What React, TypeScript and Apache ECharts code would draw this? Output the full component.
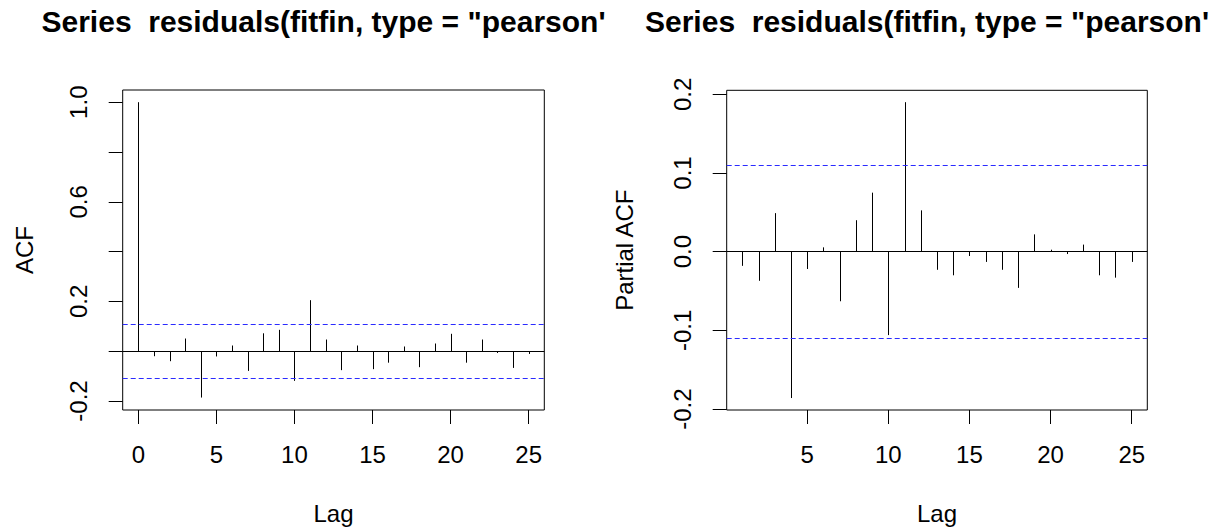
import React, { useEffect, useRef } from "react";
import * as echarts from "echarts";

const acfLags = [0, 1, 2, 3, 4, 5, 6, 7, 8, 9, 10, 11, 12, 13, 14, 15, 16, 17, 18, 19, 20, 21, 22, 23, 24, 25];
const acfValues = [1.0, -0.02, -0.04, 0.051, -0.186, -0.021, 0.023, -0.079, 0.072, 0.086, -0.119, 0.205, 0.047, -0.076, 0.023, -0.072, -0.046, 0.019, -0.064, 0.031, 0.07, -0.046, 0.047, -0.007, -0.067, -0.011];
const pacfLags = [1, 2, 3, 4, 5, 6, 7, 8, 9, 10, 11, 12, 13, 14, 15, 16, 17, 18, 19, 20, 21, 22, 23, 24, 25];
const pacfValues = [-0.018, -0.037, 0.049, -0.186, -0.022, 0.0055, -0.063, 0.04, 0.075, -0.106, 0.19, 0.0525, -0.023, -0.03, -0.0055, -0.013, -0.023, -0.046, 0.022, 0.0025, -0.003, 0.009, -0.03, -0.033, -0.013];
const confLimit = 0.107;

const titleText = 'Series  residuals(fitfin, type = "pearson\'';
const acfAxisName = "ACF";
const pacfAxisName = "Partial ACF";
const lagAxisName = "Lag";

const acfYTicks = [-0.2, 0, 0.2, 0.4, 0.6, 0.8, 1.0];
const acfYTickLabels = [-0.2, 0.2, 0.6, 1.0];
const pacfYTicks = [-0.2, -0.1, 0, 0.1, 0.2];
const acfXTicks = [0, 5, 10, 15, 20, 25];
const pacfXTicks = [5, 10, 15, 20, 25];

const FONT = '"Liberation Sans", Arial, sans-serif';

function App() {
  const ref = useRef<HTMLDivElement>(null);
  useEffect(() => {
    if (!ref.current) return;
    const chart = echarts.init(ref.current, undefined, { renderer: "svg" });

    const stem = (params: any, api: any) => {
      const x = api.value(0);
      const y = api.value(1);
      const p0 = api.coord([x, 0]);
      const p1 = api.coord([x, y]);
      const px = Math.round(p0[0]) + 0.5;
      return {
        type: "line",
        shape: { x1: px, y1: p0[1], x2: px, y2: p1[1] },
        style: { stroke: "#000", lineWidth: 1 },
      };
    };

    const marks = {
      silent: true,
      symbol: ["none", "none"],
      label: { show: false },
      emphasis: { disabled: true },
      data: [
        { yAxis: 0, lineStyle: { color: "#000", type: "solid", width: 1 } },
        { yAxis: confLimit, lineStyle: { color: "#2b2bff", type: [5, 3], width: 1.2 } },
        { yAxis: -confLimit, lineStyle: { color: "#2b2bff", type: [5, 3], width: 1.2 } },
      ],
    };

    const tickStyle = { color: "#000", fontFamily: FONT, fontSize: 24 };

    const xAxisBase = (gridIndex: number, min: number, max: number, ticks: number[]) => ({
      type: "value",
      gridIndex,
      min,
      max,
      name: lagAxisName,
      nameLocation: "middle",
      nameGap: 91,
      nameTextStyle: { ...tickStyle },
      axisLine: { show: false, onZero: false },
      splitLine: { show: false },
      axisTick: {
        show: true,
        length: 14,
        inside: false,
        customValues: ticks,
        lineStyle: { color: "#000", width: 1 },
      },
      axisLabel: {
        ...tickStyle,
        margin: 32,
        customValues: ticks,
        formatter: (v: number) => String(v),
      },
    });

    const yAxisBase = (
      gridIndex: number,
      min: number,
      max: number,
      ticks: number[],
      labels: number[],
      name: string,
      nameGap: number
    ) => ({
      type: "value",
      gridIndex,
      min,
      max,
      name,
      nameLocation: "middle",
      nameRotate: 90,
      nameGap,
      nameTextStyle: { ...tickStyle },
      axisLine: { show: false, onZero: false },
      splitLine: { show: false },
      axisTick: {
        show: true,
        length: 14,
        inside: false,
        customValues: ticks,
        lineStyle: { color: "#000", width: 1 },
      },
      axisLabel: {
        ...tickStyle,
        rotate: 90,
        margin: 32,
        customValues: labels,
        formatter: (v: number) => v.toFixed(1),
      },
    });

    chart.setOption({
      animation: false,
      backgroundColor: "#fff",
      textStyle: { fontFamily: FONT },
      title: [
        {
          text: titleText,
          left: 41.5,
          top: 6,
          padding: 0,
          textStyle: { fontFamily: FONT, fontSize: 30, fontWeight: "bold", color: "#000" },
        },
        {
          text: titleText,
          left: 645,
          top: 6,
          padding: 0,
          textStyle: { fontFamily: FONT, fontSize: 30, fontWeight: "bold", color: "#000" },
        },
      ],
      grid: [
        { left: 122.7, top: 90, width: 421.6, height: 320, show: true, borderColor: "#000", borderWidth: 1, backgroundColor: "transparent" },
        { left: 726.7, top: 90.3, width: 420.6, height: 319.7, show: true, borderColor: "#000", borderWidth: 1, backgroundColor: "transparent" },
      ],
      xAxis: [
        xAxisBase(0, -1, 26, acfXTicks),
        xAxisBase(1, 0.04, 25.96, pacfXTicks),
      ],
      yAxis: [
        yAxisBase(0, -0.236, 1.049, acfYTicks, acfYTickLabels, acfAxisName, 86),
        yAxisBase(1, -0.2012, 0.2051, pacfYTicks, pacfYTicks, pacfAxisName, 90),
      ],
      series: [
        {
          type: "custom",
          xAxisIndex: 0,
          yAxisIndex: 0,
          renderItem: stem,
          data: acfLags.map((l, i) => [l, acfValues[i]]),
          markLine: marks,
          silent: true,
        },
        {
          type: "custom",
          xAxisIndex: 1,
          yAxisIndex: 1,
          renderItem: stem,
          data: pacfLags.map((l, i) => [l, pacfValues[i]]),
          markLine: marks,
          silent: true,
        },
      ],
    });

    return () => {
      chart.dispose();
    };
  }, []);

  return (
    <div
      ref={ref}
      style={{ position: "fixed", left: 0, top: 0, width: 1223, height: 530, background: "#fff" }}
    />
  );
}

export default App;
